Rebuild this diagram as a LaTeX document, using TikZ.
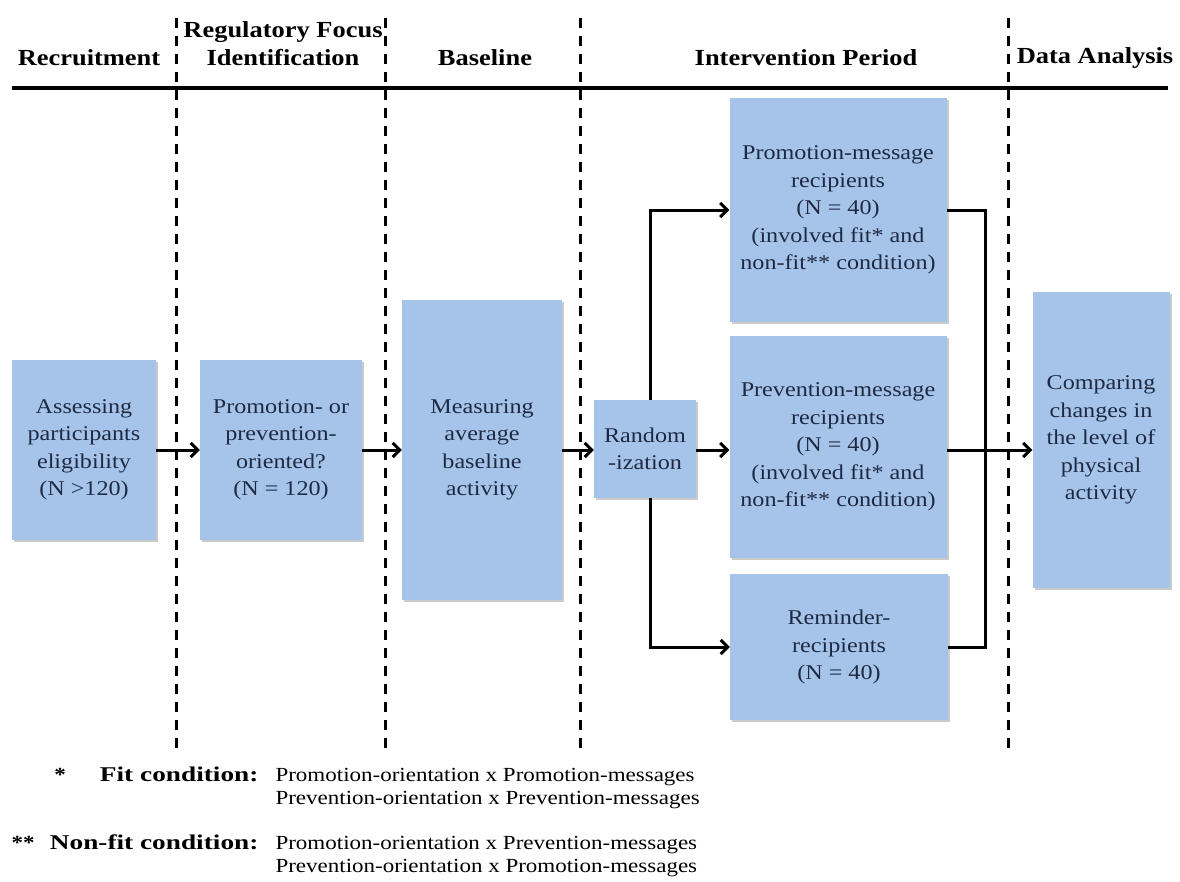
\documentclass[tikz,border=0pt]{standalone}
\usepackage{fontspec}
\setmainfont{Liberation Serif}[FakeStretch=1.15]
\newfontfamily\widebold{Liberation Serif}[FakeStretch=1.3]
\usetikzlibrary{arrows.meta,shadows}
\definecolor{boxblue}{HTML}{A6C4E9}
\definecolor{boxtext}{HTML}{1E2A44}
\begin{document}
\begin{tikzpicture}[x=1pt,y=-1pt,
  box/.style={fill=boxblue, draw=none, text=boxtext, align=center,
    font=\fontsize{21}{27.5}\selectfont,
    drop shadow={shadow xshift=2pt, shadow yshift=-2pt, opacity=0.35, fill=black!60}},
  hdr/.style={font=\fontsize{23}{28}\selectfont\bfseries, align=center, text=black},
  arr/.style={line width=3pt, -{Straight Barb[length=7pt,width=14pt,line width=3pt]}},
  conn/.style={line width=3pt},
  divider/.style={line width=3pt, dash pattern=on 10pt off 8pt},
  note/.style={font=\fontsize{20}{23}\selectfont, text=black},
  notebold/.style={font=\widebold\fontsize{21}{23}\selectfont\bfseries, text=black},
  notestar/.style={font=\fontsize{20}{23}\selectfont\bfseries, text=black}
]
\useasboundingbox (0,0) rectangle (1180,881);

% header
\node[hdr] (hRec) at (89,58) {Recruitment};
\node[hdr] (hReg) at (283,44) {Regulatory Focus\\Identification};
\node[hdr] (hBase) at (485,58) {Baseline};
\node[hdr] (hInt) at (806,58) {Intervention Period};
\node[hdr] (hDat) at (1095,58) {Data Analysis};
\draw[line width=3.5pt] (12,88) -- (1168,88);

% boxes
\node[box, minimum width=144, minimum height=180] (b1) at (84,450) {Assessing\\participants\\eligibility\\(N >120)};
\node[box, minimum width=162, minimum height=180] (b2) at (281,450) {Promotion- or\\prevention-\\oriented?\\(N = 120)};
\node[box, minimum width=160, minimum height=300] (b3) at (482,450) {Measuring\\average\\baseline\\activity};
\node[box, minimum width=102, minimum height=98] (rnd) at (645,449) {Random\\-ization};
\node[box, minimum width=217, minimum height=224] (promo) at (838,210) {Promotion-message\\recipients\\(N = 40)\\(involved fit* and\\non-fit** condition)};
\node[box, minimum width=217, minimum height=222] (prev) at (838,447) {Prevention-message\\recipients\\(N = 40)\\(involved fit* and\\non-fit** condition)};
\node[box, minimum width=218, minimum height=146] (rem) at (839,647) {Reminder-\\recipients\\(N = 40)};
\node[box, minimum width=137, minimum height=296] (cmp) at (1101,440) {Comparing\\changes in\\the level of\\physical\\activity};

% dividers
\foreach \x in {176,385,580,1008} \draw[divider] (\x,18) -- (\x,752);

% connectors
\coordinate (br) at (985,450);
\draw[arr] (b1.east) -- (b2.west);
\draw[arr] (b2.east) -- (b3.west);
\draw[arr] (b3.east) -- (b3.east -| rnd.west);
\draw[arr] (rnd.east |- b3.east) -- (rnd.east |- b3.east -| prev.west);
\draw[arr] ([xshift=5pt]rnd.north) |- (promo.west);
\draw[arr] ([xshift=5pt]rnd.south) |- (rem.west);
\draw[conn] (promo.east) -| (br) |- (rem.east);
\draw[arr] (prev.east |- br) -- (br -| cmp.west);

% notes
\node[notestar, anchor=base] (s1) at (60,781) {*};
\node[notebold, anchor=base east] (n1) at (262,781) {Fit condition:};
\node[note, anchor=base west] (n1a) at (272,781) {Promotion-orientation x Promotion-messages};
\node[note, anchor=base west] (n1b) at (272,804) {Prevention-orientation x Prevention-messages};
\node[notestar, anchor=base west] (s2) at (8,849) {**};
\node[notebold, anchor=base east] (n2) at (262,849) {Non-fit condition:};
\node[note, anchor=base west] (n2a) at (272,849) {Promotion-orientation x Prevention-messages};
\node[note, anchor=base west] (n2b) at (272,872) {Prevention-orientation x Promotion-messages};
\end{tikzpicture}
\end{document}
